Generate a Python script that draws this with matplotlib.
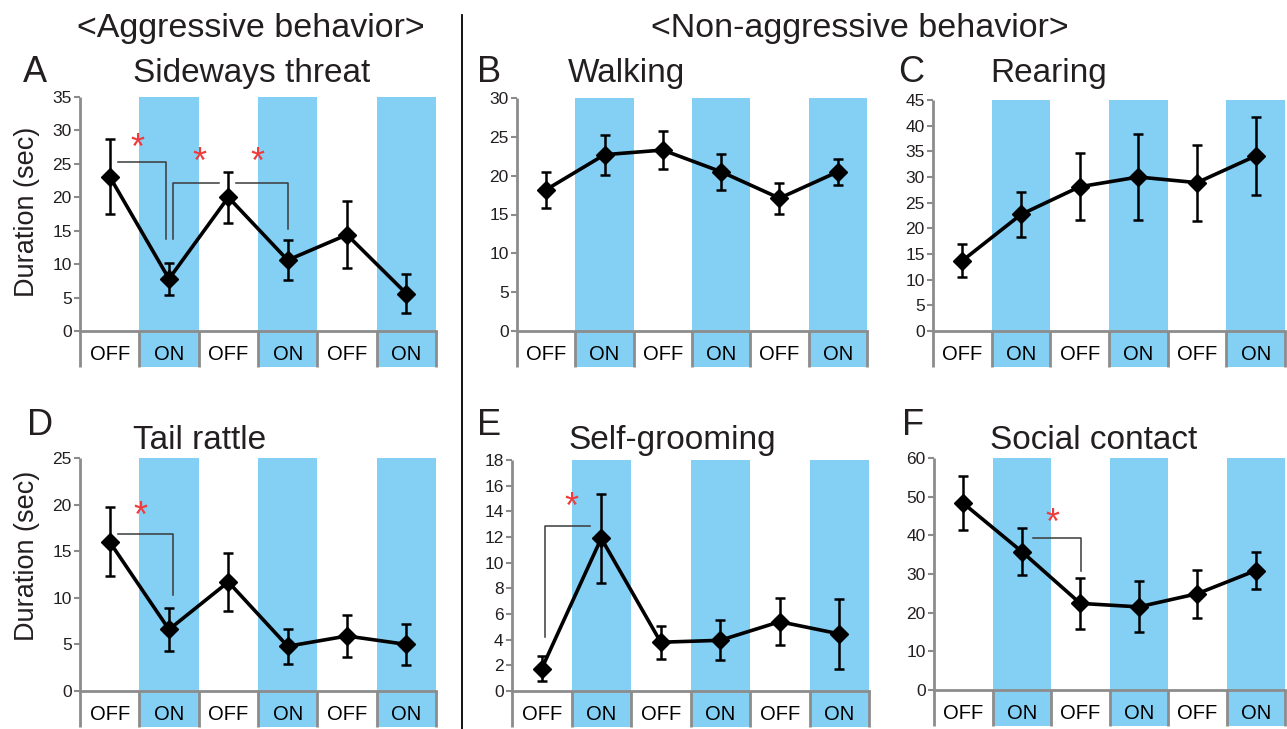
import matplotlib
matplotlib.use('Agg')
import matplotlib.pyplot as plt
from matplotlib.lines import Line2D
from matplotlib.patches import Rectangle
from matplotlib.transforms import blended_transform_factory
import numpy as np

plt.rcParams['font.family'] = ['Liberation Sans', 'DejaVu Sans']

W, H = 1287, 729

conditions = ['OFF', 'ON', 'OFF', 'ON', 'OFF', 'ON']

sideways_mean = [23.1, 7.8, 20.0, 10.6, 14.4, 5.6]
sideways_err = [5.6, 2.4, 3.8, 3.0, 5.0, 2.9]

walking_mean = [18.2, 22.7, 23.3, 20.5, 17.1, 20.5]
walking_err = [2.3, 2.6, 2.4, 2.3, 2.0, 1.7]

rearing_mean = [13.7, 22.7, 28.1, 30.0, 28.9, 34.1]
rearing_err = [3.2, 4.4, 6.5, 8.4, 7.4, 7.6]

tail_mean = [16.0, 6.6, 11.7, 4.8, 5.9, 5.0]
tail_err = [3.7, 2.3, 3.1, 1.9, 2.3, 2.2]

grooming_mean = [1.75, 11.9, 3.8, 3.95, 5.4, 4.45]
grooming_err = [0.95, 3.45, 1.3, 1.55, 1.85, 2.75]

social_mean = [48.3, 35.8, 22.4, 21.5, 24.9, 30.9]
social_err = [7.0, 6.0, 6.6, 6.6, 6.2, 4.9]

# significance brackets: (x path, y path) in data units, and star positions
sideways_brackets = [([0.14, 0.95, 0.95], [25.3, 25.3, 13.7]),
                     ([1.07, 1.07, 1.85], [13.7, 22.1, 22.1]),
                     ([2.13, 3.0, 3.0], [22.1, 22.1, 15.2])]
sideways_stars = [(0.47, 27.2), (1.51, 25.1), (2.49, 25.1)]
tail_brackets = [([0.14, 1.07, 1.07], [16.8, 16.8, 10.3])]
tail_stars = [(0.51, 18.6)]
grooming_brackets = [([0.05, 0.05, 0.81], [4.2, 12.85, 12.85])]
grooming_stars = [(0.49, 14.2)]
social_brackets = [([1.2, 2.02, 2.02], [39.3, 39.3, 30.8])]
social_stars = [(1.52, 42.8)]

GRAY = '#8c8c8c'
BLUE = '#84CFF4'
TXT = '#231f20'

fig = plt.figure(figsize=(W / 100, H / 100), dpi=100)


def fx(px):
    return px / W


def fy(py):
    return 1 - py / H


panels = [
    dict(letter='A', title='Sideways threat', mean=sideways_mean, err=sideways_err,
         ymax=35, step=5, box=(80, 436, 97, 331), br=sideways_brackets, st=sideways_stars,
         lpos=(23, 82), tpos=(133, 82)),
    dict(letter='B', title='Walking', mean=walking_mean, err=walking_err,
         ymax=30, step=5, box=(517, 867, 98, 331), br=[], st=[],
         lpos=(477, 82), tpos=(568, 82)),
    dict(letter='C', title='Rearing', mean=rearing_mean, err=rearing_err,
         ymax=45, step=5, box=(933, 1285, 100, 331), br=[], st=[],
         lpos=(898, 82), tpos=(990, 82)),
    dict(letter='D', title='Tail rattle', mean=tail_mean, err=tail_err,
         ymax=25, step=5, box=(80, 436, 458, 691), br=tail_brackets, st=tail_stars,
         lpos=(27, 435), tpos=(133, 449)),
    dict(letter='E', title='Self-grooming', mean=grooming_mean, err=grooming_err,
         ymax=18, step=2, box=(512, 869, 460, 691), br=grooming_brackets, st=grooming_stars,
         lpos=(477, 435), tpos=(568, 449)),
    dict(letter='F', title='Social contact', mean=social_mean, err=social_err,
         ymax=60, step=10, box=(934, 1285, 458, 690), br=social_brackets, st=social_stars,
         lpos=(902, 435), tpos=(990, 449)),
]

ROW = 36
x = np.arange(len(conditions))

for p in panels:
    l, r, t, z = p['box']
    hpx = z - t
    ax = fig.add_axes([fx(l), fy(z), (r - l) / W, hpx / H])
    ax.set_xlim(-0.5, len(conditions) - 0.5)
    ax.set_ylim(0, p['ymax'])
    for s in ax.spines.values():
        s.set_visible(False)
    ax.set_xticks([])
    ax.set_yticks(np.arange(0, p['ymax'] + 0.1, p['step']))
    ax.tick_params(axis='y', direction='out', length=4, width=1.5, color=GRAY,
                   pad=2, labelsize=12.5, labelcolor=TXT)
    trans = blended_transform_factory(ax.transData, ax.transAxes)
    rowf = ROW / hpx
    # shaded ON bands and category row
    for i, c in enumerate(conditions):
        if c == 'ON':
            ax.axvspan(i - 0.5, i + 0.5, color=BLUE, lw=0, zorder=0)
            ax.add_patch(Rectangle((i - 0.5, -rowf), 1.0, rowf, transform=trans,
                                   facecolor=BLUE, lw=0, clip_on=False, zorder=0))
        ax.text(i, -29 / hpx, c, transform=trans, ha='center', va='baseline',
                fontsize=14.5, color='black')
        ax.plot([i + 0.5, i + 0.5], [0, -rowf], transform=trans, color=GRAY,
                lw=2, clip_on=False, zorder=2, solid_capstyle='butt')
    # left spine extending through row, zero line
    ax.plot([-0.5, -0.5], [1, -rowf], transform=trans, color=GRAY, lw=2,
            clip_on=False, zorder=2, solid_capstyle='butt')
    ax.plot([-0.5, len(conditions) - 0.5], [0, 0], transform=trans, color=GRAY,
            lw=2, clip_on=False, zorder=2)
    # brackets
    for xs, ys in p['br']:
        ax.plot(xs, ys, color='#3a3a3a', lw=1.1, zorder=3)
    for sx, sy in p['st']:
        ax.text(sx, sy, '*', color='#ef3b3b', fontsize=26, ha='center', va='center',
                zorder=6)
    ax.errorbar(x, p['mean'], yerr=p['err'], fmt='-D', color='black', lw=2.6,
                ms=9.5, capsize=3.5, elinewidth=1.8, capthick=1.8, zorder=5)
    fig.text(fx(p['lpos'][0]), fy(p['lpos'][1]), p['letter'], fontsize=26,
             ha='left', va='baseline', color=TXT)
    fig.text(fx(p['tpos'][0]), fy(p['tpos'][1]), p['title'], fontsize=24,
             ha='left', va='baseline', color=TXT)

fig.text(fx(251), fy(37), '<Aggressive behavior>', fontsize=24.5, ha='center',
         va='baseline', color=TXT)
fig.text(fx(860), fy(37), '<Non-aggressive behavior>', fontsize=24.5, ha='center',
         va='baseline', color=TXT)
fig.text(fx(27), fy(212), 'Duration (sec)', fontsize=19.5, rotation=90,
         ha='center', va='center', color=TXT)
fig.text(fx(27), fy(556), 'Duration (sec)', fontsize=19.5, rotation=90,
         ha='center', va='center', color=TXT)

fig.add_artist(Line2D([fx(462), fx(462)], [fy(15), 0], color='black', lw=1.3))

fig.savefig('out.png', dpi=100)
